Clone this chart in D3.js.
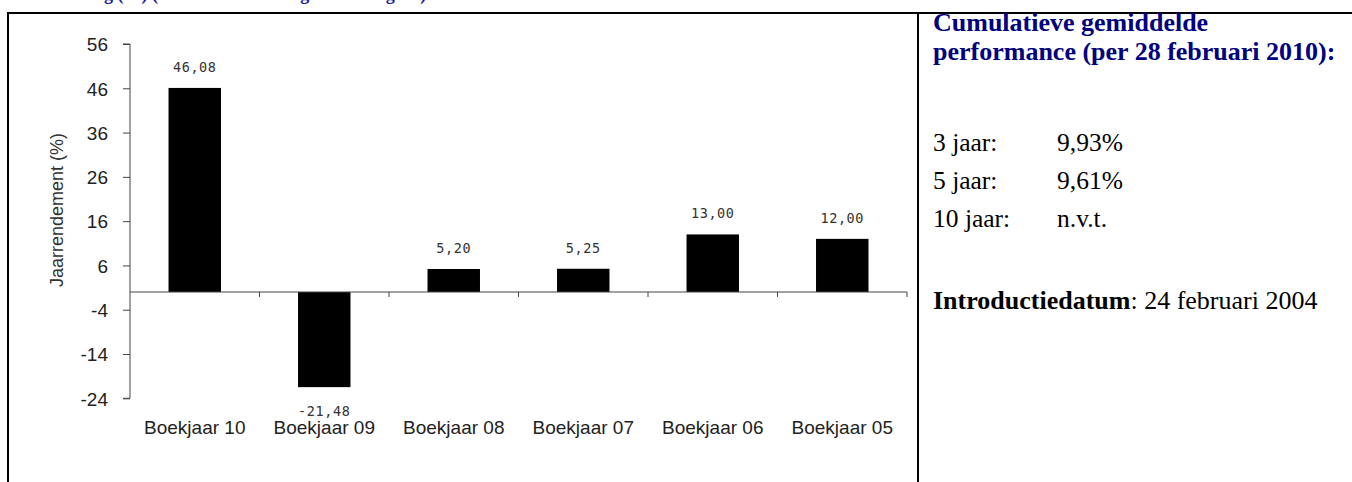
<!DOCTYPE html>
<html>
<head>
<meta charset="utf-8">
<script src="https://cdn.jsdelivr.net/npm/d3@7/dist/d3.min.js"></script>
<style>
  html, body { margin: 0; padding: 0; background: #fff; }
  svg { display: block; }
</style>
</head>
<body>
<svg id="chart" width="1352" height="482"></svg>
<script>
// ---- Data ----
const categories = ["Boekjaar 10", "Boekjaar 09", "Boekjaar 08", "Boekjaar 07", "Boekjaar 06", "Boekjaar 05"];
const values = [46.08, -21.48, 5.20, 5.25, 13.00, 12.00];
const valueLabels = ["46,08", "-21,48", "5,20", "5,25", "13,00", "12,00"];
const yTicks = [56, 46, 36, 26, 16, 6, -4, -14, -24];
const yTitle = "Jaarrendement (%)";
const headerTitle = "Ontwikkeling (%) (rendement van de gesloten dag tot)";
const panelHeading = ["Cumulatieve gemiddelde", "performance (per 28 februari 2010):"];
const periodLabels = ["3 jaar:", "5 jaar:", "10 jaar:"];
const periodValues = ["9,93%", "9,61%", "n.v.t."];
const introLabel = "Introductiedatum";
const introValue = ": 24 februari 2004";

const svg = d3.select("#chart");

// ---- Frame ----
svg.append("text")
  .attr("x", 8).attr("y", -0.5)
  .attr("font-family", "Liberation Serif, Times New Roman, serif")
  .attr("font-weight", "bold").attr("font-size", 18)
  .attr("fill", "#1a1aa0")
  .text(headerTitle);

svg.append("rect").attr("x", 7).attr("y", 12).attr("width", 1345).attr("height", 2).attr("fill", "#000");
svg.append("rect").attr("x", 7).attr("y", 12).attr("width", 2).attr("height", 470).attr("fill", "#000");
svg.append("rect").attr("x", 917).attr("y", 12).attr("width", 2).attr("height", 470).attr("fill", "#000");

// ---- Scales ----
const x = d3.scaleBand().domain(categories).range([130, 907]).padding(0);
const y = d3.scaleLinear().domain([-24, 56]).range([398.3, 44]);
const barW = x.bandwidth() * 0.405;

const axisColor = "#444";
const textColor = "#222";

// ---- Y axis ----
const yAxis = d3.axisLeft(y).tickValues(yTicks).tickSize(7).tickPadding(15).tickFormat(d => String(d));
const gy = svg.append("g").attr("transform", "translate(130,0)").call(yAxis);
gy.select(".domain").attr("stroke", axisColor).attr("d", `M-7,${y(56)}H0V${y(-24)}H-7`);
gy.selectAll(".tick line").attr("stroke", axisColor);
gy.selectAll(".tick text")
  .attr("font-family", "Liberation Sans, Arial, sans-serif")
  .attr("font-size", 19).attr("fill", textColor).attr("dy", "0.36em");

// Y title
svg.append("text")
  .attr("transform", `translate(63,210) rotate(-90)`)
  .attr("text-anchor", "middle")
  .attr("font-family", "Liberation Sans, Arial, sans-serif")
  .attr("font-size", 18).attr("fill", "#333")
  .text(yTitle);

// ---- Bars ----
svg.append("g").selectAll("rect").data(values).join("rect")
  .attr("x", (d, i) => x(categories[i]) + x.bandwidth() / 2 - barW / 2)
  .attr("width", barW)
  .attr("y", d => y(Math.max(0, d)))
  .attr("height", d => Math.abs(y(d) - y(0)))
  .attr("fill", "#000");

// ---- X axis (at zero) ----
const xAxis = d3.axisBottom(x).tickSize(0).tickFormat("");
const gx = svg.append("g").attr("transform", `translate(0,${y(0)})`).call(xAxis);
gx.select(".domain").attr("stroke", axisColor).attr("d", `M130,0H907`);
gx.selectAll(".tick").remove();
gx.selectAll(".bound").data(categories.slice(1).concat(["end"])).join("line")
  .attr("class", "bound")
  .attr("x1", (d, i) => i < categories.length - 1 ? x(d) : x.range()[1])
  .attr("x2", (d, i) => i < categories.length - 1 ? x(d) : x.range()[1])
  .attr("y1", 0).attr("y2", 5)
  .attr("stroke", axisColor);

// Category labels
svg.append("g").selectAll("text").data(categories).join("text")
  .attr("x", d => x(d) + x.bandwidth() / 2)
  .attr("y", 434)
  .attr("text-anchor", "middle")
  .attr("font-family", "Liberation Sans, Arial, sans-serif")
  .attr("font-size", 19).attr("fill", textColor)
  .text(d => d);

// Value labels
svg.append("g").selectAll("text").data(values).join("text")
  .attr("x", (d, i) => x(categories[i]) + x.bandwidth() / 2)
  .attr("y", d => d >= 0 ? y(d) - 16 : y(d) + 28.5)
  .attr("text-anchor", "middle")
  .attr("font-family", "DejaVu Sans Mono, monospace")
  .attr("font-size", 13.5).attr("letter-spacing", 0.6)
  .attr("fill", "#333")
  .text((d, i) => valueLabels[i]);

// ---- Right panel ----
const serif = "Liberation Serif, Times New Roman, serif";
svg.append("g").selectAll("text").data(panelHeading).join("text")
  .attr("x", 933).attr("y", (d, i) => 31 + i * 29)
  .attr("font-family", serif).attr("font-weight", "bold").attr("font-size", 26)
  .attr("fill", "#000080")
  .text(d => d);

const rowY = [151, 189, 227];
svg.append("g").selectAll("text").data(periodLabels).join("text")
  .attr("x", 933).attr("y", (d, i) => rowY[i])
  .attr("font-family", serif).attr("font-size", 25.5).attr("fill", "#000")
  .text(d => d);
svg.append("g").selectAll("text").data(periodValues).join("text")
  .attr("x", 1057).attr("y", (d, i) => rowY[i])
  .attr("font-family", serif).attr("font-size", 25.5).attr("fill", "#000")
  .text(d => d);

const intro = svg.append("text").attr("x", 933).attr("y", 309)
  .attr("font-family", serif).attr("font-size", 26).attr("fill", "#000");
intro.append("tspan").attr("font-weight", "bold").text(introLabel);
intro.append("tspan").text(introValue);
</script>
</body>
</html>
